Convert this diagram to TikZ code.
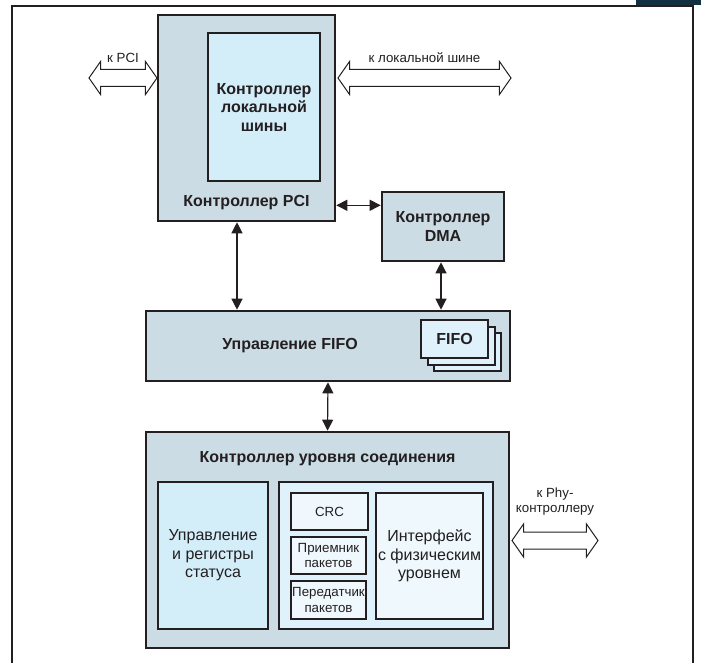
\documentclass[tikz,border=0pt]{standalone}
\usepackage{fontspec}
\setmainfont{Liberation Sans}
\usepackage{tikz}
\usetikzlibrary{arrows.meta,positioning,shapes.arrows}

\definecolor{outerfill}{HTML}{CBDCE5}
\definecolor{innerfill}{HTML}{D3EDF9}
\definecolor{palefill}{HTML}{DFF2FB}
\definecolor{cellfill}{HTML}{EEF8FD}
\definecolor{ink}{HTML}{231F20}
\definecolor{logo}{HTML}{12303F}

\begin{document}
\begin{tikzpicture} [x = 1pt, y = -1pt,
	blk/.style = {draw = ink, line width = 2.6pt, inner sep = 0pt},
	cell/.style = {draw = ink, line width = 2.2pt, fill = cellfill, inner sep = 0pt, align = center},
	ttl/.style = {font = \fontsize{16}{18.5}\selectfont\bfseries, text = ink, align = center},
	txt/.style = {font = \fontsize{16}{18.5}\selectfont, text = ink, align = center},
	sml/.style = {font = \fontsize{13.3}{15.5}\selectfont, text = ink, align = center},
	biarrow/.style = {{Triangle[length=11pt,width=11pt]}-{Triangle[length=11pt,width=11pt]}, line width = 1.2pt, draw = ink},
	bus/.style = {double arrow, draw = ink, line width = 1pt, fill = white, inner xsep = 0pt, inner ysep = 8pt, double arrow head extend = 8pt, double arrow tip angle = 110}]
	\useasboundingbox (0,0) rectangle (701,663);
	\fill [logo] (636,0) rectangle (701,5);
	\draw [ink, line width = 1.1pt] (12,663) -- (12,6) -- (693,6) -- (693,663);

	% PCI controller
	\node [blk, fill = outerfill, minimum width = 177, minimum height = 206] (pci) at (246.5,118) {};
	\node [blk, fill = innerfill, minimum width = 112, minimum height = 148] (lbus) at (264,107) {};
	\node [ttl] at (lbus) {Контроллер\\локальной\\шины};
	\node [ttl, above = 9pt of pci.south] {Контроллер PCI};
	\node [blk, fill = outerfill, minimum width = 122, minimum height = 69, ttl] (dma) at (443,226.5) {Контроллер\\DMA};

	% FIFO
	\node [blk, fill = outerfill, minimum width = 364, minimum height = 70] (fifoctl) at (328,346) {};
	\node [ttl] at ([xshift = -38pt]fifoctl.center) {Управление FIFO};
	\node [cell, fill = palefill, line width = 2pt, minimum width = 67, minimum height = 38] (fifo3) at (467.5,352) {};
	\node [cell, fill = palefill, line width = 2pt, minimum width = 67, minimum height = 38] (fifo2) at (461,345.5) {};
	\node [cell, fill = palefill, line width = 2pt, minimum width = 67, minimum height = 38, ttl] (fifo) at (454.5,339) {FIFO};

	% link layer controller
	\node [blk, fill = outerfill, minimum width = 363, minimum height = 216] (link) at (327.5,540) {};
	\node [ttl] at ([yshift = -28pt]link.north) {Контроллер уровня соединения};
	\node [blk, fill = innerfill, minimum width = 110, minimum height = 147, txt] (regs) at (213,555.5) {Управление\\и регистры\\статуса};
	\node [blk, fill = palefill, minimum width = 214, minimum height = 147] (phyblk) at (386,555.5) {};
	\node [cell, minimum width = 77, minimum height = 37, sml] (crc) at (329.5,511.5) {CRC};
	\node [cell, minimum width = 75, minimum height = 37, sml] (rx) at (328.5,555.5) {Приемник\\пакетов};
	\node [cell, minimum width = 75, minimum height = 38, sml] (tx) at (328.5,600) {Передатчик\\пакетов};
	\node [cell, minimum width = 107, minimum height = 126, txt] (phyif) at (429.5,556) {Интерфейс\\с физическим\\уровнем};

	% links between blocks
	\draw [biarrow] ([yshift = 17pt]pci.south east) -- ([yshift = 17pt]pci.south east -| dma.west);
	\draw [biarrow] ([xshift = -9.5pt]pci.south) -- ([xshift = -9.5pt]pci.south |- fifoctl.north);
	\draw [biarrow] ([xshift = -2pt]dma.south) -- ([xshift = -2pt]dma.south |- fifoctl.north);
	\draw [biarrow] (fifoctl.south) -- (link.north);

	% external buses
	\node [bus, minimum height = 68] (kpci) at (123,78) {};
	\node [sml, anchor = base] at ([yshift = 15pt]kpci.center) {к PCI};
	\node [bus, minimum height = 173] (klocal) at (424.5,78) {};
	\node [sml, anchor = base] at ([yshift = 15pt]klocal.center) {к локальной шине};
	\node [bus, minimum height = 86] (kphy) at (555,540.5) {};
	\node [sml, anchor = south, inner sep = 0pt] at ([yshift = 25pt]kphy.center) {к Phy-\\контроллеру};
\end{tikzpicture}
\end{document}
